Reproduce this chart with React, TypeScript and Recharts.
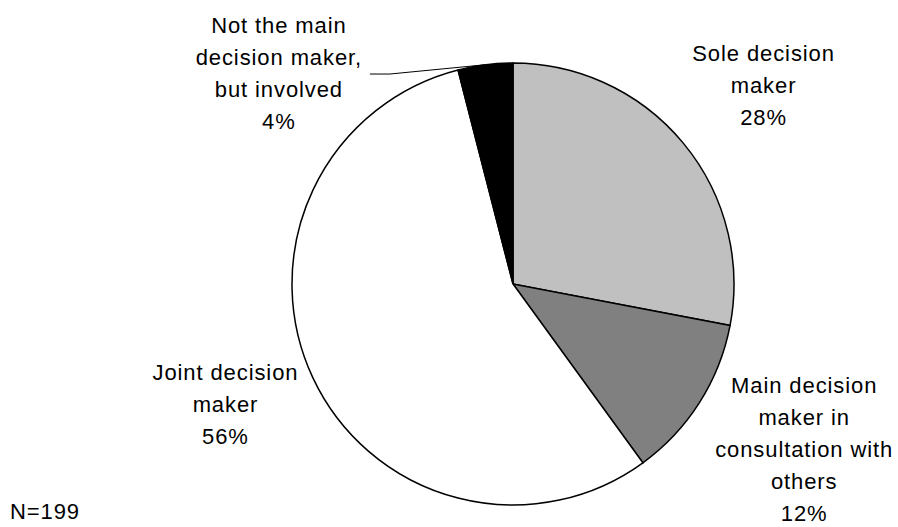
import { PieChart, Pie, Cell } from 'recharts';

const categories = [
  'Sole decision maker',
  'Main decision maker in consultation with others',
  'Joint decision maker',
  'Not the main decision maker, but involved',
];
const shares = [28, 12, 56, 4];
const labelLines = [
  ['Sole decision', 'maker', '28%'],
  ['Main decision', 'maker in', 'consultation with', 'others', '12%'],
  ['Joint decision', 'maker', '56%'],
  ['Not the main', 'decision maker,', 'but involved', '4%'],
];
const sampleNote = 'N=199';

const COLORS = ['#C0C0C0', '#808080', '#FFFFFF', '#000000'];
// nudges from the default label ring, mimicking the hand-placed labels
const NUDGE = [
  [4, 5],
  [21, -6],
  [2, -16],
  [-194, 106],
];
const LABEL_R = 320;
const LINE_H = 32;
const FONT = '"Liberation Sans", Arial, sans-serif';
const FONT_SIZE = 22;
const SPACING = 0.9;
const RAD = Math.PI / 180;

const data = categories.map((name, i) => ({ name, value: shares[i] }));

function SliceLabel(props: any) {
  const { cx, cy, midAngle, outerRadius, index } = props;
  const lines = labelLines[index];
  const x = cx + LABEL_R * Math.cos(-midAngle * RAD) + NUDGE[index][0];
  const y = cy + LABEL_R * Math.sin(-midAngle * RAD) + NUDGE[index][1];
  const top = y - ((lines.length - 1) * LINE_H) / 2 + 8;

  let leader = null;
  if (index === 3) {
    // leader line from the moved label back to its slice
    const sx = x + 91;
    const sy = y + 1.5;
    const ex = cx + outerRadius * Math.cos(-midAngle * RAD);
    const ey = cy + outerRadius * Math.sin(-midAngle * RAD);
    leader = (
      <polyline
        points={`${sx},${sy} ${sx + 20},${sy} ${ex},${ey}`}
        fill="none"
        stroke="#000"
        strokeWidth={1}
      />
    );
  }

  return (
    <g>
      {leader}
      <text
        x={x}
        y={top}
        textAnchor="middle"
        fontFamily={FONT}
        fontSize={FONT_SIZE}
        letterSpacing={SPACING}
        fill="#000"
      >
        {lines.map((l, i) => (
          <tspan key={i} x={x} y={top + i * LINE_H}>
            {l}
          </tspan>
        ))}
      </text>
    </g>
  );
}

export default function App() {
  return (
    <div style={{ position: 'absolute', left: 0, top: 0, width: 898, height: 527, background: '#fff' }}>
      <PieChart width={898} height={527} margin={{ top: 0, right: 0, bottom: 0, left: 0 }}>
        <Pie
          data={data}
          dataKey="value"
          cx={513}
          cy={284}
          outerRadius={221}
          startAngle={90}
          endAngle={-270}
          stroke="#000"
          strokeWidth={1.5}
          label={SliceLabel}
          labelLine={false}
          isAnimationActive={false}
        >
          {data.map((_, i) => (
            <Cell key={`cell-${i}`} fill={COLORS[i]} />
          ))}
        </Pie>
      </PieChart>
      <div
        style={{
          position: 'absolute',
          left: 10,
          top: 499,
          fontFamily: FONT,
          fontSize: FONT_SIZE,
          letterSpacing: SPACING,
          lineHeight: '25px',
        }}
      >
        {sampleNote}
      </div>
    </div>
  );
}
